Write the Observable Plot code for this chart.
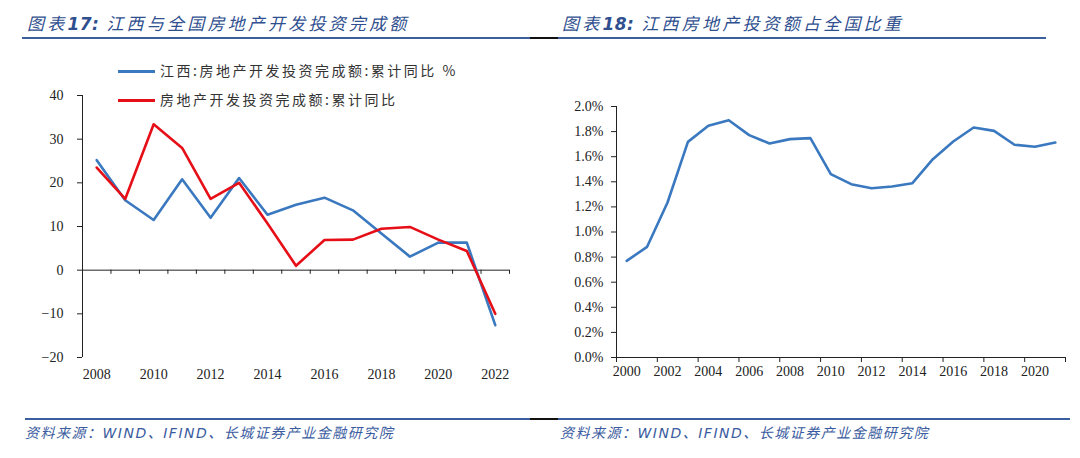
<!DOCTYPE html>
<html><head><meta charset="utf-8">
<script src="https://cdn.jsdelivr.net/npm/d3@7"></script>
<script src="https://cdn.jsdelivr.net/npm/@observablehq/plot@0.6"></script>
<style>
body{margin:0;background:#fff;}
#wrap{position:relative;width:1080px;height:458px;overflow:hidden;background:#fff;font-family:"Noto Sans CJK SC",sans-serif;}
.title{position:absolute;top:10px;font-size:17px;font-style:italic;color:#2f4f8f;letter-spacing:3.2px;white-space:nowrap;}
.title b{font-family:"DejaVu Sans",sans-serif;font-weight:bold;letter-spacing:0.5px;}
.foot{position:absolute;top:422px;font-size:14px;font-style:italic;color:#3a5ba0;white-space:nowrap;font-family:"DejaVu Sans","Noto Sans CJK SC",sans-serif;letter-spacing:1.5px;}
.hl{position:absolute;height:2px;}
.legend{position:absolute;left:118px;font-size:14px;color:#333;letter-spacing:2.5px;white-space:nowrap;}
.legend span.sw{display:inline-block;width:37px;height:3px;vertical-align:middle;margin-right:5px;position:relative;top:-1px;}
.plot{position:absolute;top:50px;}
</style></head>
<body><div id="wrap">
<div class="title" style="left:27px">图表<b>17:</b> 江西与全国房地产开发投资完成额</div>
<div class="title" style="left:562px">图表<b>18:</b> 江西房地产投资额占全国比重</div>
<div class="hl" style="top:37px;left:22px;width:508px;background:#3b5f9e"></div>
<div class="hl" style="top:37px;left:530px;width:28px;background:#111"></div>
<div class="hl" style="top:37px;left:558px;width:488px;background:#3b5f9e"></div>
<div class="hl" style="top:418px;left:25px;width:505px;background:#3b5f9e"></div>
<div class="hl" style="top:418px;left:530px;width:28px;background:#111"></div>
<div class="hl" style="top:418px;left:558px;width:512px;background:#3b5f9e"></div>
<div class="foot" style="left:25px">资料来源：WIND、IFIND、长城证券产业金融研究院</div>
<div class="foot" style="left:560px">资料来源：WIND、IFIND、长城证券产业金融研究院</div>
<div id="left" class="plot" style="left:0px"></div>
<div id="right" class="plot" style="left:540px"></div>
<div class="legend" style="top:60px"><span class="sw" style="background:#3a78bf"></span>江西:房地产开发投资完成额:累计同比 %</div>
<div class="legend" style="top:89px"><span class="sw" style="background:#e60f17"></span>房地产开发投资完成额:累计同比</div>
</div>
<script>
// ---- Chart 17 data ----
const years = [2008,2009,2010,2011,2012,2013,2014,2015,2016,2017,2018,2019,2020,2021,2022];
const jiangxi = [25.2,16.0,11.5,20.8,12.0,21.1,12.7,15.0,16.6,13.7,8.4,3.1,6.3,6.3,-12.6];
const national = [23.5,16.3,33.4,28.0,16.3,20.0,10.7,1.0,6.9,7.0,9.5,9.9,7.0,4.4,-10.0];
const yTicksLeft = [-20,-10,0,10,20,30,40];
const xLabelsLeft = [2008,2010,2012,2014,2016,2018,2020,2022];

// ---- Chart 18 data ----
const shareYears = [2000,2001,2002,2003,2004,2005,2006,2007,2008,2009,2010,2011,2012,2013,2014,2015,2016,2017,2018,2019,2020,2021];
const share = [0.770,0.882,1.235,1.718,1.846,1.891,1.772,1.705,1.740,1.748,1.461,1.381,1.349,1.363,1.389,1.580,1.721,1.833,1.806,1.695,1.679,1.713];
const yTicksRight = [0,0.2,0.4,0.6,0.8,1.0,1.2,1.4,1.6,1.8,2.0];
const xLabelsRight = [2000,2002,2004,2006,2008,2010,2012,2014,2016,2018,2020];

const BLUE = "#3a78bf", RED = "#e60f17";
const fontStyle = {fontFamily:"'Liberation Serif',serif", fontSize:"14px", color:"#222", background:"transparent", overflow:"visible"};

// left chart
const leftData = years.flatMap((y,i)=>[{year:y,v:jiangxi[i],s:"jx"},{year:y,v:national[i],s:"cn"}]);
const xDomL = [years[0]-0.5, years[years.length-1]+0.5];
const bounds = years.map(y=>y-0.5).concat([years[years.length-1]+0.5]);
const yDomL = [yTicksLeft[0], yTicksLeft[yTicksLeft.length-1]];
const left = Plot.plot({
  width:540, height:350, marginLeft:82, marginRight:31, marginTop:45, marginBottom:43,
  style:fontStyle,
  x:{domain:xDomL, axis:null},
  y:{domain:yDomL, axis:null},
  marks:[
    Plot.ruleX([xDomL[0]], {y1:yDomL[0], y2:yDomL[1], stroke:"#222", strokeWidth:1}),
    Plot.ruleY([0], {stroke:"#222", strokeWidth:1}),
    Plot.ruleX(bounds, {y1:0, y2:-0.95, stroke:"#222", strokeWidth:1}),
    Plot.axisY({ticks:yTicksLeft, tickSize:5, tickPadding:14, fontSize:14, label:null, tickFormat:d=>d<0?"\u2212"+Math.abs(d):String(d)}),
    Plot.axisX({ticks:xLabelsLeft, tickSize:0, tickPadding:12, fontSize:14, label:null, tickFormat:d=>String(d)}),
    Plot.line(leftData.filter(d=>d.s==="jx"), {x:"year", y:"v", stroke:BLUE, strokeWidth:2.6}),
    Plot.line(leftData.filter(d=>d.s==="cn"), {x:"year", y:"v", stroke:RED, strokeWidth:2.6})
  ]
});
document.getElementById("left").appendChild(left);

// right chart
const rightData = shareYears.map((y,i)=>({year:y, v:share[i]}));
const xDomR = [shareYears[0]-0.5, shareYears[shareYears.length-1]+0.5];
const boundsR = xLabelsRight.map(y=>y-0.5).concat([shareYears[shareYears.length-1]+0.5]);
const yDomR = [yTicksRight[0], yTicksRight[yTicksRight.length-1]];
const right = Plot.plot({
  width:540, height:350, marginLeft:76, marginRight:15, marginTop:56, marginBottom:43,
  style:fontStyle,
  x:{domain:xDomR, axis:null},
  y:{domain:yDomR, axis:null},
  marks:[
    Plot.ruleX([xDomR[0]], {y1:yDomR[0], y2:yDomR[1], stroke:"#222", strokeWidth:1}),
    Plot.ruleY([0], {stroke:"#222", strokeWidth:1}),
    Plot.axisY({ticks:yTicksRight, tickSize:5, tickPadding:8, fontSize:14, label:null, tickFormat:d=>d.toFixed(1)+"%"}),
    Plot.axisX({ticks:boundsR, tickSize:5, text:null, label:null, stroke:"#222"}),
    Plot.axisX({ticks:xLabelsRight, tickSize:0, tickPadding:9, fontSize:14, label:null, tickFormat:d=>String(d)}),
    Plot.line(rightData, {x:"year", y:"v", stroke:BLUE, strokeWidth:2.6})
  ]
});
document.getElementById("right").appendChild(right);
</script>
</body></html>
